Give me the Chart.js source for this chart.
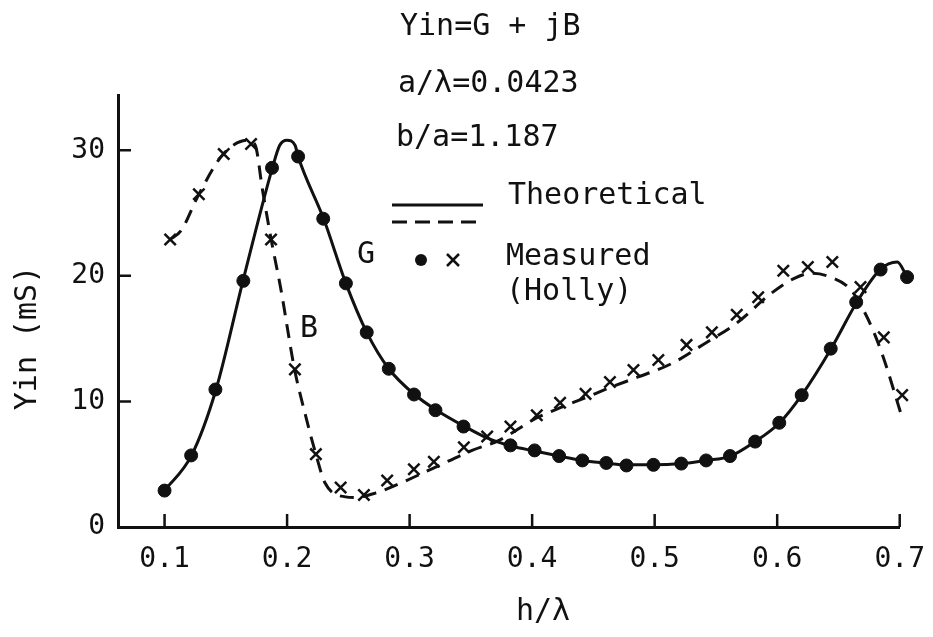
<!DOCTYPE html>
<html>
<head>
<meta charset="utf-8">
<script src="https://cdn.jsdelivr.net/npm/chart.js@4/dist/chart.umd.min.js"></script>
<style>
  html, body { margin: 0; padding: 0; background: #ffffff; }
  canvas { display: block; }
</style>
</head>
<body>
<canvas id="c" width="933" height="637"></canvas>
<script>
// ---- Data ----
const xTicks = [0.1, 0.2, 0.3, 0.4, 0.5, 0.6, 0.7];
const yTicks = [0, 10, 20, 30];

// Theoretical G (solid curve)
const gTheoryH = [0.100, 0.122, 0.142, 0.164, 0.188, 0.194, 0.200, 0.2065, 0.209, 0.230, 0.248, 0.265, 0.283, 0.304, 0.322, 0.345, 0.363, 0.383, 0.402, 0.422, 0.441, 0.460, 0.477, 0.499, 0.522, 0.542, 0.562, 0.582, 0.602, 0.620, 0.644, 0.665, 0.684, 0.698, 0.706];
const gTheoryV = [2.9, 5.7, 10.95, 19.6, 28.6, 30.4, 30.8, 30.4, 29.5, 24.5, 19.4, 15.5, 12.6, 10.55, 9.3, 8.0, 7.1, 6.45, 6.05, 5.65, 5.3, 5.1, 4.95, 4.95, 5.05, 5.3, 5.65, 6.8, 8.3, 10.5, 14.2, 17.9, 20.5, 21.1, 19.9];

// Theoretical B (dashed curve)
const bTheoryH = [0.1046, 0.1135, 0.128, 0.148, 0.168, 0.174, 0.180, 0.187, 0.195, 0.206, 0.215, 0.2235, 0.231, 0.2476, 0.255, 0.272, 0.295, 0.3186, 0.351, 0.373, 0.404, 0.423, 0.4436, 0.4635, 0.4865, 0.5136, 0.5407, 0.5678, 0.595, 0.614, 0.628, 0.6436, 0.660, 0.6734, 0.6856, 0.702];
const bTheoryV = [22.9, 23.6, 26.5, 29.7, 30.8, 30.4, 26.8, 22.9, 18.9, 12.6, 8.9, 5.8, 3.5, 2.4, 2.35, 2.7, 3.6, 4.65, 6.1, 6.9, 8.7, 9.5, 10.3, 11.1, 11.95, 13.0, 14.6, 16.3, 18.6, 19.8, 20.2, 19.9, 18.9, 16.7, 13.8, 8.7];

// Measured G (dots, Holly)
const gMeasH = [0.100, 0.1217, 0.1415, 0.1643, 0.1877, 0.209, 0.2295, 0.248, 0.265, 0.283, 0.3036, 0.3211, 0.344, 0.3823, 0.402, 0.422, 0.441, 0.4605, 0.477, 0.499, 0.5217, 0.542, 0.5615, 0.582, 0.6017, 0.620, 0.6437, 0.6645, 0.6844, 0.706];
const gMeasV = [2.9, 5.7, 10.95, 19.6, 28.6, 29.5, 24.55, 19.4, 15.5, 12.6, 10.55, 9.3, 8.0, 6.5, 6.1, 5.65, 5.3, 5.1, 4.9, 4.95, 5.05, 5.3, 5.65, 6.8, 8.3, 10.5, 14.2, 17.9, 20.5, 19.9];

// Measured B (crosses, Holly)
const bMeasH = [0.1046, 0.128, 0.1483, 0.1706, 0.1869, 0.2064, 0.2235, 0.2437, 0.2627, 0.2817, 0.3035, 0.3198, 0.3443, 0.3633, 0.3823, 0.4038, 0.4228, 0.4436, 0.4635, 0.4827, 0.503, 0.526, 0.5467, 0.567, 0.5845, 0.605, 0.625, 0.645, 0.668, 0.687, 0.702];
const bMeasV = [22.9, 26.5, 29.7, 30.5, 22.9, 12.55, 5.8, 3.15, 2.55, 3.7, 4.6, 5.2, 6.35, 7.2, 8.0, 8.9, 9.9, 10.6, 11.55, 12.5, 13.3, 14.5, 15.5, 16.9, 18.3, 20.4, 20.7, 21.1, 19.1, 15.1, 10.5];

const pts = (xs, ys) => xs.map((x, i) => ({ x: x, y: ys[i] }));

const FONT = '"DejaVu Sans Mono", "Liberation Mono", monospace';
const INK = '#111111';

const decorPlugin = {
  id: 'decor',
  afterDraw(chart) {
    const ctx = chart.ctx;
    const xs = chart.scales.x, ys = chart.scales.y;
    const ca = chart.chartArea;
    ctx.save();
    // inward tick marks
    ctx.strokeStyle = INK;
    ctx.lineWidth = 2.5;
    ctx.beginPath();
    yTicks.forEach(v => {
      if (v === 0) return;
      const py = ys.getPixelForValue(v);
      ctx.moveTo(ca.left, py); ctx.lineTo(ca.left + 13, py);
    });
    xTicks.forEach(v => {
      const px = xs.getPixelForValue(v);
      ctx.moveTo(px, ca.bottom); ctx.lineTo(px, ca.bottom - 13);
    });
    ctx.stroke();

    // annotation texts
    ctx.fillStyle = INK;
    ctx.font = '30px ' + FONT;
    ctx.textAlign = 'left';
    ctx.textBaseline = 'middle';
    ctx.fillText('Yin=G + jB', 400, 27);
    ctx.fillText('a/\u03bb=0.0423', 398, 84);
    ctx.fillText('b/a=1.187', 396, 138);
    ctx.fillText('Theoretical', 508, 196);
    ctx.fillText('Measured', 506, 257);
    ctx.fillText('(Holly)', 506, 292);
    ctx.fillText('G', 357, 255);
    ctx.fillText('B', 300, 329);

    // legend line samples
    ctx.lineWidth = 3;
    ctx.beginPath();
    ctx.moveTo(392, 205); ctx.lineTo(483, 205);
    ctx.stroke();
    ctx.setLineDash([15, 8]);
    ctx.beginPath();
    ctx.moveTo(392, 222); ctx.lineTo(483, 222);
    ctx.stroke();
    ctx.setLineDash([]);
    // legend markers
    ctx.beginPath();
    ctx.arc(421, 260, 6, 0, Math.PI * 2);
    ctx.fill();
    ctx.lineWidth = 2.5;
    ctx.beginPath();
    ctx.moveTo(447, 254); ctx.lineTo(459, 266);
    ctx.moveTo(459, 254); ctx.lineTo(447, 266);
    ctx.stroke();

    // axis titles
    ctx.textAlign = 'center';
    ctx.fillText('h/\u03bb', 543, 612);
    ctx.translate(28, 338);
    ctx.rotate(-Math.PI / 2);
    ctx.fillText('Yin (mS)', 0, 0);
    ctx.restore();
  }
};

new Chart(document.getElementById('c'), {
  type: 'line',
  data: {
    datasets: [
      {
        label: 'G theoretical',
        data: pts(gTheoryH, gTheoryV),
        borderColor: INK, borderWidth: 3,
        pointRadius: 0, fill: false,
        cubicInterpolationMode: 'monotone',
        clip: false
      },
      {
        label: 'B theoretical',
        data: pts(bTheoryH, bTheoryV),
        borderColor: INK, borderWidth: 3,
        borderDash: [14, 9],
        pointRadius: 0, fill: false,
        cubicInterpolationMode: 'monotone',
        clip: false
      },
      {
        label: 'G measured',
        data: pts(gMeasH, gMeasV),
        showLine: false,
        pointStyle: 'circle', pointRadius: 6.5,
        pointBackgroundColor: INK, pointBorderColor: INK, pointBorderWidth: 1,
        clip: false
      },
      {
        label: 'B measured',
        data: pts(bMeasH, bMeasV),
        showLine: false,
        pointStyle: 'crossRot', pointRadius: 8,
        pointBorderColor: INK, pointBorderWidth: 2.5,
        clip: false
      }
    ]
  },
  options: {
    responsive: false,
    animation: false,
    layout: { padding: { top: 95, right: 31, left: 0, bottom: 0 } },
    plugins: { legend: { display: false }, tooltip: { enabled: false } },
    scales: {
      x: {
        type: 'linear', min: 0.062, max: 0.7,
        afterBuildTicks: s => { s.ticks = xTicks.map(v => ({ value: v })); },
        afterFit: s => { s.height = 110; },
        grid: { display: false },
        border: { display: true, color: INK, width: 3 },
        ticks: {
          color: INK, font: { family: FONT, size: 28 }, padding: 8,
          maxRotation: 0, autoSkip: false,
          callback: v => Number(v).toFixed(1)
        }
      },
      y: {
        type: 'linear', min: 0, max: 34.4,
        afterBuildTicks: s => { s.ticks = yTicks.map(v => ({ value: v })); },
        afterFit: s => { s.width = 118; },
        grid: { display: false },
        border: { display: true, color: INK, width: 3 },
        ticks: {
          color: INK, font: { family: FONT, size: 28 }, padding: 5,
          callback: v => String(v)
        }
      }
    }
  },
  plugins: [decorPlugin]
});
</script>
</body>
</html>
